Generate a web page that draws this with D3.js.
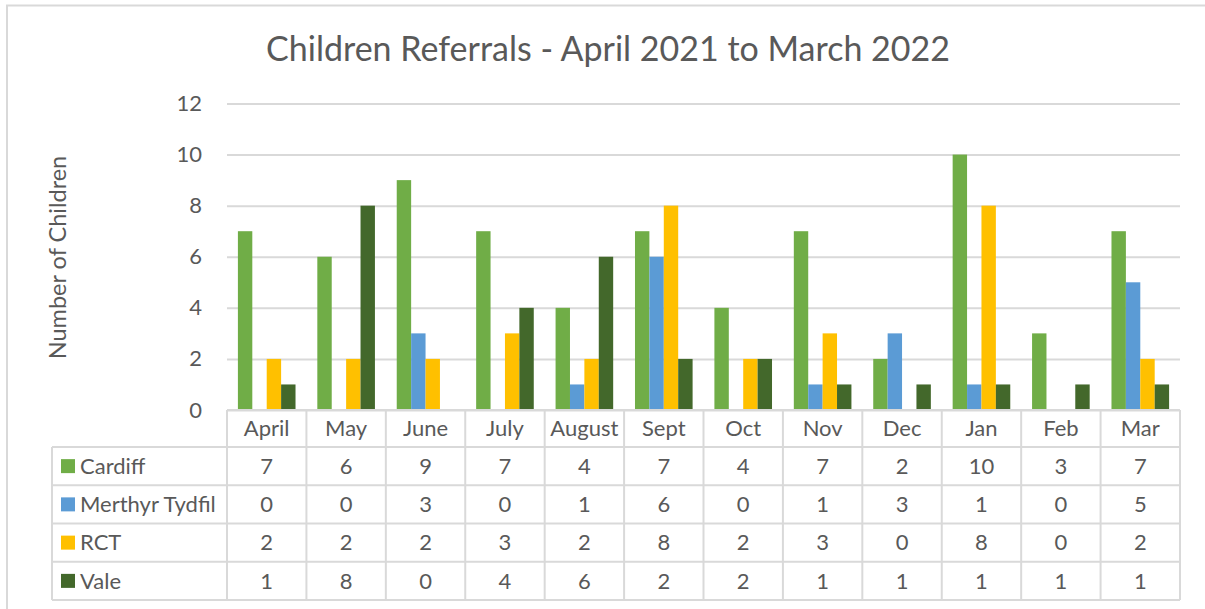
<!DOCTYPE html>
<html><head><meta charset="utf-8">
<script src="https://cdn.jsdelivr.net/npm/d3@7"></script>
<style>
body{margin:0;background:#fff}
svg{display:block}
text{font-family:Lato,'Open Sans',sans-serif;fill:#595959}
</style>
</head><body><svg id="c" width="1205" height="609"></svg>
<script>
const months = ["April","May","June","July","August","Sept","Oct","Nov","Dec","Jan","Feb","Mar"];
const seriesNames = ["Cardiff","Merthyr Tydfil","RCT","Vale"];
const cardiff = [7,6,9,7,4,7,4,7,2,10,3,7];
const merthyr = [0,0,3,0,1,6,0,1,3,1,0,5];
const rct = [2,2,2,3,2,8,2,3,0,8,0,2];
const vale = [1,8,0,4,6,2,2,1,1,1,1,1];
const yTicks = [0,2,4,6,8,10,12];
const colors = ["#70AD47","#5B9BD5","#FFC000","#43682B"];
const title = "Children Referrals - April 2021 to March 2022";
const yTitle = "Number of Children";

const seriesValues = [cardiff, merthyr, rct, vale];
const svg = d3.select("#c");
const L = 227, R = 1180, T = 103.5, B = 410;
const grid = "#d9d9d9";
const fs = "22px";

// outer border
svg.append("rect").attr("x",7).attr("y",5.5).attr("width",1210).attr("height",620)
  .attr("fill","none").attr("stroke",grid).attr("stroke-width",2);

const x0 = d3.scaleBand().domain(months).range([L,R]).padding(0);
const x1 = d3.scaleBand().domain(seriesNames).range([0,x0.bandwidth()]).paddingInner(0).paddingOuter(0.757);
const y = d3.scaleLinear().domain([0,12]).range([B,T]);
const color = d3.scaleOrdinal().domain(seriesNames).range(colors);

// y axis with gridlines
const yAxis = svg.append("g").attr("transform",`translate(${L},0)`)
  .call(d3.axisLeft(y).tickValues(yTicks).tickSize(-(R-L)).tickPadding(25));
yAxis.select(".domain").remove();
yAxis.selectAll(".tick line").attr("stroke",grid).attr("stroke-width",2);
yAxis.selectAll(".tick text").attr("fill","#595959").style("font-size",fs).style("font-family","Lato,'Open Sans',sans-serif");

// bars
const data = months.map((m,i)=>({month:m, vals: seriesNames.map((s,j)=>({s, v: seriesValues[j][i]}))}));
const g = svg.append("g");
g.selectAll("g.grp").data(data).join("g").attr("class","grp")
  .attr("transform",d=>`translate(${x0(d.month)},0)`)
  .selectAll("rect").data(d=>d.vals).join("rect")
  .attr("x",d=>x1(d.s)).attr("width",x1.bandwidth())
  .attr("y",d=>y(d.v)).attr("height",d=>y(0)-y(d.v))
  .attr("fill",d=>color(d.s));

// title
svg.append("text").attr("x",608).attr("y",61).attr("text-anchor","middle")
  .style("font-size","34px").text(title);

// y title
svg.append("text").attr("transform","translate(58,257.5) rotate(-90)").attr("text-anchor","middle")
  .attr("dy","0.35em").style("font-size","23.5px").text(yTitle);

// data table
const hdrTop = B, hdrBot = 447, rowH = (600-447)/4, tblL = 52;
const tbl = svg.append("g");
const rowY = i => hdrBot + i*rowH;
tbl.append("line").attr("x1",L).attr("x2",R).attr("y1",hdrTop).attr("y2",hdrTop);
tbl.selectAll("line.h").data(d3.range(5)).join("line").attr("class","h")
  .attr("x1",tblL).attr("x2",R).attr("y1",i=>rowY(i)).attr("y2",i=>rowY(i));
tbl.append("line").attr("x1",tblL).attr("x2",tblL).attr("y1",hdrBot).attr("y2",rowY(4));
tbl.selectAll("line.v").data(months.concat(["end"])).join("line").attr("class","v")
  .attr("x1",(d,i)=>L+i*x0.step()).attr("x2",(d,i)=>L+i*x0.step())
  .attr("y1",hdrTop).attr("y2",rowY(4));
tbl.selectAll("line").attr("stroke",grid).attr("stroke-width",2);

tbl.selectAll("text.hdr").data(months).join("text").attr("class","hdr")
  .attr("x",d=>x0(d)+x0.bandwidth()/2).attr("y",(hdrTop+hdrBot)/2).attr("dy","0.35em")
  .attr("text-anchor","middle").style("font-size",fs).text(d=>d);

seriesNames.forEach((s,j)=>{
  const cy = rowY(j)+rowH/2;
  tbl.append("rect").attr("x",61).attr("y",cy-7).attr("width",14).attr("height",14).attr("fill",color(s));
  tbl.append("text").attr("x",80).attr("y",cy).attr("dy","0.35em").style("font-size",fs).text(s);
  tbl.selectAll(null).data(months).join("text")
    .attr("x",d=>x0(d)+x0.bandwidth()/2).attr("y",cy).attr("dy","0.35em")
    .attr("text-anchor","middle").style("font-size",fs).text((d,i)=>seriesValues[j][i]);
});
</script>
</body></html>
